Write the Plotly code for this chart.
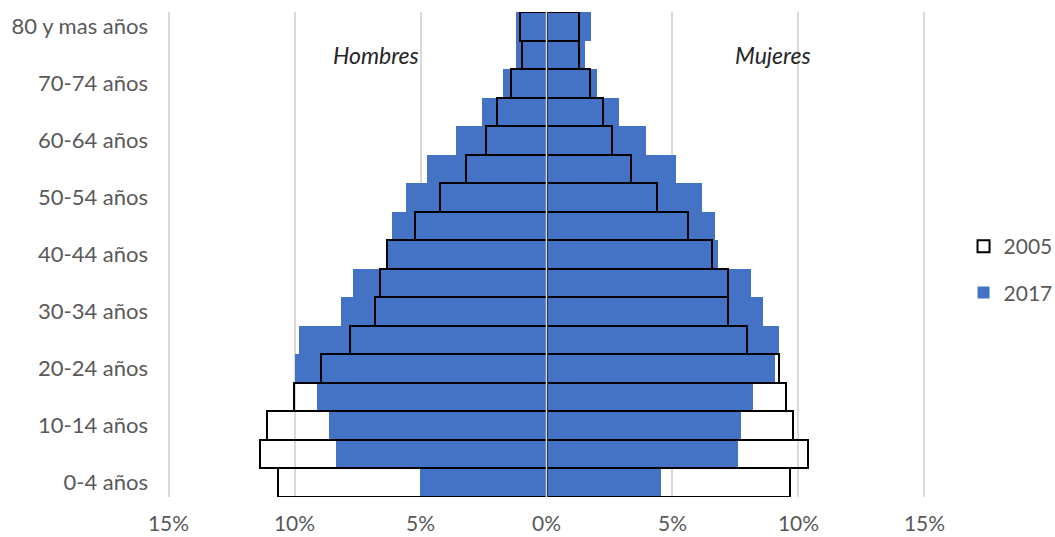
import plotly.graph_objects as go

# Grupos de edad, de abajo hacia arriba
grupos = ["0-4 años", "5-9 años", "10-14 años", "15-19 años", "20-24 años",
          "25-29 años", "30-34 años", "35-39 años", "40-44 años", "45-49 años",
          "50-54 años", "55-59 años", "60-64 años", "65-69 años", "70-74 años",
          "75-79 años", "80 y mas años"]

# Porcentaje de la población total por grupo (%)
hombres_2017 = [5.01, 8.37, 8.63, 9.12, 10.00, 9.82, 8.14, 7.66, 6.37, 6.15,
                5.57, 4.73, 3.59, 2.57, 1.71, 1.21, 1.21]
mujeres_2017 = [4.56, 7.60, 7.72, 8.19, 9.07, 9.21, 8.59, 8.10, 6.80, 6.67,
                6.17, 5.12, 3.96, 2.86, 1.99, 1.52, 1.78]
hombres_2005 = [10.67, 11.38, 11.10, 10.01, 8.96, 7.78, 6.82, 6.60, 6.32, 5.22,
                4.22, 3.19, 2.40, 1.98, 1.40, 0.98, 1.06]
mujeres_2005 = [9.65, 10.37, 9.80, 9.49, 9.24, 7.97, 7.19, 7.19, 6.58, 5.62,
                4.38, 3.35, 2.59, 2.25, 1.72, 1.27, 1.30]

etiquetas_y = grupos[::2]
ticks_x = [-15, -10, -5, 0, 5, 10, 15]
texto_x = ["15%", "10%", "5%", "0%", "5%", "10%", "15%"]

AZUL = "#4472C4"
FUENTE = "Lato"
GRIS = "#595959"

fig = go.Figure()

# 2017: barras rellenas
fig.add_trace(go.Bar(y=grupos, x=[-v for v in hombres_2017], orientation="h",
                     name="2017", legendgroup="2017", legendrank=2,
                     marker=dict(color=AZUL, line=dict(width=0))))
fig.add_trace(go.Bar(y=grupos, x=mujeres_2017, orientation="h",
                     name="2017", legendgroup="2017", showlegend=False,
                     marker=dict(color=AZUL, line=dict(width=0))))

# 2005: solo contorno, encima
fig.add_trace(go.Bar(y=grupos, x=[-v for v in hombres_2005], orientation="h",
                     name="2005", legendgroup="2005", legendrank=1,
                     marker=dict(color="rgba(0,0,0,0)",
                                 line=dict(color="black", width=2))))
fig.add_trace(go.Bar(y=grupos, x=mujeres_2005, orientation="h",
                     name="2005", legendgroup="2005", showlegend=False,
                     marker=dict(color="rgba(0,0,0,0)",
                                 line=dict(color="black", width=2))))

# Eje vertical en 0 por encima de las barras
fig.add_shape(type="line", x0=0, x1=0, y0=0, y1=1, xref="x", yref="y domain",
              line=dict(color="#d9d9d9", width=1.5), layer="above")

fig.add_annotation(x=-5, y="75-79 años", text="Hombres", showarrow=False,
                   xanchor="right", yanchor="middle",
                   font=dict(family=FUENTE, size=23, color="#262626", style="italic"))
fig.add_annotation(x=9, y="75-79 años", text="Mujeres", showarrow=False,
                   xanchor="center", yanchor="middle",
                   font=dict(family=FUENTE, size=23, color="#262626", style="italic"))

fig.update_layout(
    width=1055, height=537,
    margin=dict(l=166, r=128, t=12, b=40, autoexpand=False),
    barmode="overlay", bargap=0,
    paper_bgcolor="white", plot_bgcolor="white",
    font=dict(family=FUENTE, size=21, color=GRIS),
    legend=dict(x=1.048, y=0.469, xanchor="left", yanchor="middle",
                tracegroupgap=16, font=dict(family=FUENTE, size=21, color=GRIS),
                bgcolor="rgba(0,0,0,0)"),
    xaxis=dict(range=[-15.1, 15.1], tickvals=ticks_x, ticktext=texto_x,
               showgrid=True, gridcolor="#d9d9d9", gridwidth=1.5,
               zeroline=False, showline=False, ticks="",
               ticklabelstandoff=12, fixedrange=True),
    yaxis=dict(categoryorder="array", categoryarray=grupos,
               range=[-0.5, len(grupos) - 0.5],
               tickvals=etiquetas_y, ticktext=etiquetas_y,
               tickfont=dict(family=FUENTE, size=22, color=GRIS),
               showgrid=False, zeroline=False, showline=False, ticks="",
               ticklabelstandoff=17, fixedrange=True),
)

fig.write_html("out.html")
